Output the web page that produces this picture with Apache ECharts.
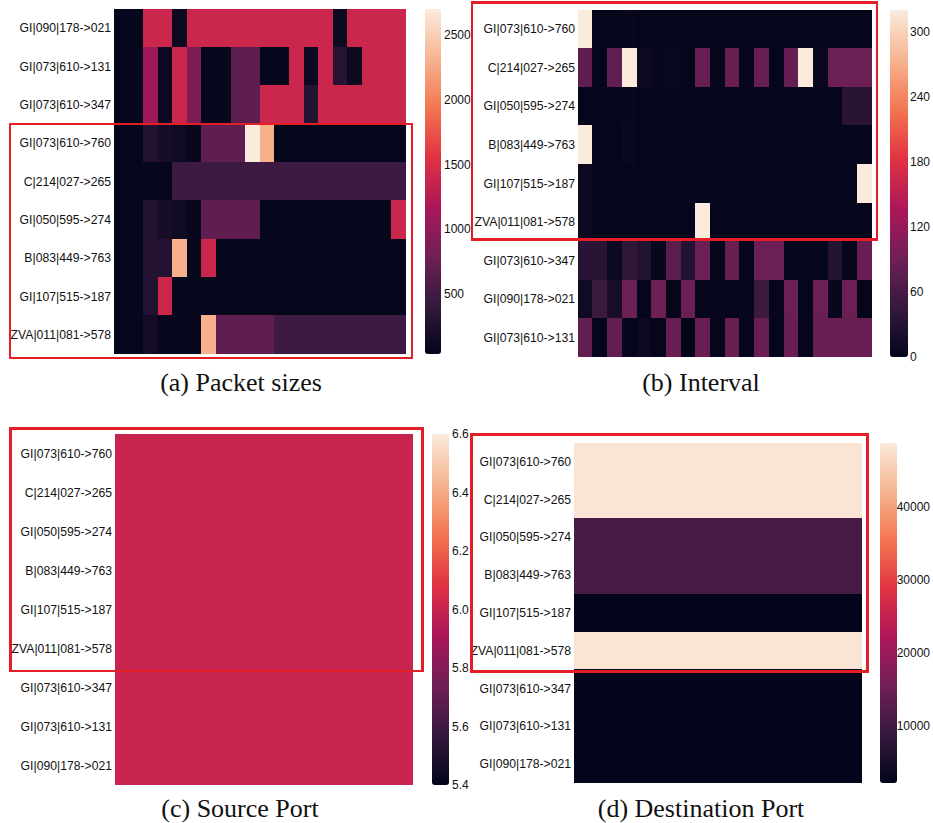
<!DOCTYPE html>
<html><head><meta charset="utf-8">
<script src="https://cdn.jsdelivr.net/npm/echarts@6/dist/echarts.min.js"></script>
<style>html,body{margin:0;padding:0;background:#fff}#c{width:933px;height:823px}
#c svg path,#c svg rect{shape-rendering:crispEdges}</style>
</head><body><div id="c"></div><script>
// seaborn "rocket" colormap, sampled at 0, 1/7, ..., 1
const rocket = ['#03051a','#35193e','#701f57','#ad1759','#e13342','#f37651','#f6b48f','#faebdd'];

// (a) Packet sizes
const rowsA = ['GI|090|178->021','GI|073|610->131','GI|073|610->347','GI|073|610->760','C|214|027->265','GI|050|595->274','B|083|449->763','GI|107|515->187','ZVA|011|081->578'];
const packetSizes = [
  [60,60,1400,1400,110,1400,1400,1400,1400,1400,1400,1400,1400,1400,1400,110,1400,1400,1400,1400],
  [60,60,1080,110,1400,880,60,60,680,680,60,60,1400,110,1400,310,110,1400,1400,1400],
  [60,60,1080,110,1400,880,60,60,680,680,1400,1400,1400,300,1400,1400,1400,1400,1400,1400],
  [60,60,280,200,140,70,690,690,690,2700,2300,60,60,60,60,60,60,60,60,60],
  [60,60,60,60,470,470,470,470,470,470,470,470,470,470,470,470,470,470,470,470],
  [60,60,280,200,140,70,690,690,690,690,60,60,60,60,60,60,60,60,60,1400],
  [60,60,280,280,2300,60,1400,60,60,60,60,60,60,60,60,60,60,60,60,60],
  [60,60,280,1400,60,60,60,60,60,60,60,60,60,60,60,60,60,60,60,60],
  [60,60,170,60,60,60,2300,690,690,690,690,470,470,470,470,470,470,470,470,470]
];
const ticksA = [500,1000,1500,2000,2500];

// (b) Interval
const rowsB = ['GI|073|610->760','C|214|027->265','GI|050|595->274','B|083|449->763','GI|107|515->187','ZVA|011|081->578','GI|073|610->347','GI|090|178->021','GI|073|610->131'];
const intervals = [
  [320,2,2,5,2,2,2,2,2,2,2,2,2,2,2,2,2,2,2,2],
  [78,2,80,320,8,3,6,2,85,2,85,2,85,2,82,320,6,88,88,88],
  [2,2,2,4,2,2,2,2,2,2,2,2,2,2,2,2,2,2,35,35],
  [320,2,2,6,2,2,2,2,2,2,2,2,2,2,2,2,2,2,2,2],
  [10,2,2,3,2,2,2,2,2,2,2,2,2,2,2,2,2,2,2,320],
  [10,2,2,3,2,2,2,2,320,2,2,2,2,2,2,2,2,2,2,2],
  [35,35,10,40,30,3,75,30,88,2,85,2,88,88,2,2,2,30,2,85],
  [12,50,20,88,2,88,2,88,2,2,2,2,50,2,88,2,88,5,88,2],
  [80,2,80,2,8,2,85,2,85,2,85,2,85,2,85,2,85,85,85,85]
];
const ticksB = [0,60,120,180,240,300];

// (c) Source Port and (d) Destination Port
const rowsCD = ['GI|073|610->760','C|214|027->265','GI|050|595->274','B|083|449->763','GI|107|515->187','ZVA|011|081->578','GI|073|610->347','GI|073|610->131','GI|090|178->021'];
const sourcePort = [[6],[6],[6],[6],[6],[6],[6],[6],[6]];
const ticksC = [5.4,5.6,5.8,6.0,6.2,6.4,6.6];
const destPort = [[48000],[48000],[11000],[11000],[2300],[48000],[2300],[2300],[2300]];
const ticksD = [10000,20000,30000,40000];

const captions = ['(a) Packet sizes','(b) Interval','(c) Source Port','(d) Destination Port'];

function cells(m){const d=[];m.forEach((row,r)=>row.forEach((v,c)=>d.push([c,r,v])));return d;}
function colCats(m){return m[0].map((_,i)=>String(i));}

const panels = [
  {rows:rowsA, vals:packetSizes, ticks:ticksA, min:40, max:2700, grid:{left:114,top:9,width:292,height:345}, bar:{x:425,w:16}, fmt:v=>String(v)},
  {rows:rowsB, vals:intervals, ticks:ticksB, min:0, max:320, grid:{left:578,top:10,width:294,height:347}, bar:{x:890,w:18}, fmt:v=>String(v)},
  {rows:rowsCD, vals:sourcePort, ticks:ticksC, min:5.4, max:6.6, grid:{left:115,top:434,width:298,height:351}, bar:{x:432,w:17}, fmt:v=>Number(v).toFixed(1)},
  {rows:rowsCD, vals:destPort, ticks:ticksD, min:2200, max:48700, grid:{left:574,top:443,width:288,height:340}, bar:{x:880,w:17}, fmt:v=>String(v)}
];

const rowFont = {fontFamily:'"Liberation Sans", Arial, sans-serif', fontSize:12.2, color:'#111'};
const barFont = {fontFamily:'"Liberation Sans", Arial, sans-serif', fontSize:12, color:'#111'};
const grid=[], xAxis=[], yAxis=[], series=[], visualMap=[];
panels.forEach((p,i)=>{
  grid.push(Object.assign({}, p.grid));
  xAxis.push({type:'category', gridIndex:i, data:colCats(p.vals), show:false});
  yAxis.push({type:'category', gridIndex:i, data:p.rows, inverse:true,
    axisLine:{show:false}, axisTick:{show:false}, splitLine:{show:false},
    axisLabel:Object.assign({margin:3}, rowFont)});
  series.push({type:'heatmap', xAxisIndex:i, yAxisIndex:i, data:cells(p.vals),
    itemStyle:{borderWidth:0}, emphasis:{disabled:true}, progressive:0, silent:true});
  visualMap.push({type:'continuous', seriesIndex:i, dimension:2, min:p.min, max:p.max,
    calculable:false, hoverLink:false, orient:'vertical', padding:0,
    left:p.bar.x, top:p.grid.top, itemWidth:p.bar.w, itemHeight:p.grid.height,
    text:null, textStyle:{color:'rgba(0,0,0,0)'}, inRange:{color:rocket}});
});
panels.forEach((p,i)=>{
  const gi = 4+i;
  grid.push({left:p.bar.x, top:p.grid.top, width:p.bar.w, height:p.grid.height});
  xAxis.push({type:'value', gridIndex:gi, show:false, min:0, max:1});
  yAxis.push({type:'value', gridIndex:gi, position:'right', min:p.min, max:p.max,
    axisLine:{show:false}, axisTick:{show:false}, splitLine:{show:false},
    axisLabel:Object.assign({margin:3, customValues:p.ticks, formatter:p.fmt, showMinLabel:true, showMaxLabel:true}, barFont)});
});

const red = '#e41e26';
const boxes = [
  {x:10, y:124, w:402, h:234},
  {x:472, y:2.3, w:405, h:237},
  {x:10.3, y:428.3, w:412.4, h:242.7},
  {x:471.3, y:434.3, w:396.4, h:237}
];
const capPos = [[241,382],[701,382],[240,808],[701,808]];
const graphic = [];
boxes.forEach(b=>graphic.push({type:'rect', z:100, silent:true, shape:{x:b.x,y:b.y,width:b.w,height:b.h},
  style:{fill:'none', stroke:red, lineWidth:2.6}}));
captions.forEach((t,i)=>graphic.push({type:'text', z:100, silent:true, x:capPos[i][0], y:capPos[i][1],
  style:{text:t, fontFamily:'"Liberation Serif", "DejaVu Serif", serif', fontSize:26, fill:'#111', align:'center', verticalAlign:'middle'}}));

const chart = echarts.init(document.getElementById('c'), null, {renderer:'svg'});
chart.setOption({backgroundColor:'#fff', animation:false, grid, xAxis, yAxis, series, visualMap, graphic});
</script></body></html>
